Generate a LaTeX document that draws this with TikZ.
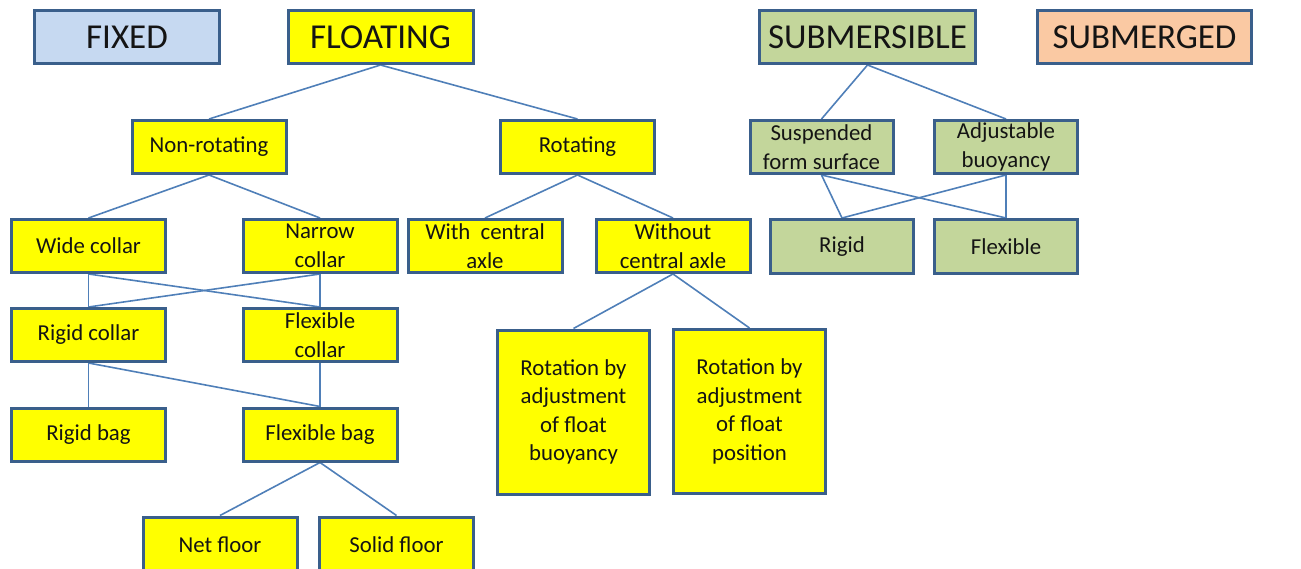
\documentclass[tikz,border=0pt]{standalone}
\usepackage{fontspec}
\setmainfont{Carlito}
\usetikzlibrary{backgrounds}
\definecolor{boxline}{HTML}{3A5F8B}
\definecolor{linkline}{HTML}{4F7FB8}
\definecolor{yel}{HTML}{FFFF00}
\definecolor{fixedfill}{HTML}{C6D9F1}
\definecolor{subfill}{HTML}{C3D69B}
\definecolor{mergedfill}{HTML}{FAC9A3}
\definecolor{txt}{HTML}{141414}
\tikzset{
  x=1pt, y=-1pt,
  box/.style={draw=boxline, line width=3pt, rectangle, inner sep=2pt,
    align=center, text=txt, font=\fontsize{22.8}{28.5}\selectfont},
  bigbox/.style={box, minimum width=185pt, minimum height=53pt,
    font=\fontsize{35}{40}\selectfont},
  smallbox/.style={box, minimum width=154pt, minimum height=53pt},
  link/.style={draw=linkline, line width=1.6pt}
}
\begin{document}
\begin{tikzpicture}
\useasboundingbox (0,0) rectangle (1301,569);
% top level
\node[bigbox, fill=fixedfill] (fixed) at (127,37) {FIXED};
\node[bigbox, fill=yel] (floating) at (380.5,37) {FLOATING};
\node[bigbox, fill=subfill, minimum width=216pt] (submersible) at (867.5,37) {SUBMERSIBLE};
\node[bigbox, fill=mergedfill, minimum width=214pt] (submerged) at (1144.5,37) {SUBMERGED};
% floating branch
\node[smallbox, fill=yel] (nonrot) at (209,147) {Non-rotating};
\node[smallbox, fill=yel] (rot) at (577.5,147) {Rotating};
\node[smallbox, fill=yel] (wide) at (88.5,246) {Wide collar};
\node[smallbox, fill=yel] (narrow) at (320,246) {Narrow\\collar};
\node[smallbox, fill=yel] (withaxle) at (485,246) {With\ \ central\\axle};
\node[smallbox, fill=yel] (withoutaxle) at (673,246) {Without\\central axle};
\node[smallbox, fill=yel] (rigidcollar) at (88.5,335) {Rigid collar};
\node[smallbox, fill=yel] (flexcollar) at (320,335) {Flexible\\collar};
\node[smallbox, fill=yel] (rigidbag) at (88.5,434.5) {Rigid bag};
\node[smallbox, fill=yel] (flexbag) at (320,434.5) {Flexible bag};
\node[smallbox, fill=yel, minimum width=152pt, minimum height=164pt] (rotbuoy) at (573.5,412) {Rotation by\\adjustment\\of float\\buoyancy};
\node[smallbox, fill=yel, minimum width=152pt, minimum height=164pt] (rotpos) at (749.5,411.5) {Rotation by\\adjustment\\of float\\position};
\node[smallbox, fill=yel, minimum height=56pt] (netfloor) at (220,545) {Net floor};
\node[smallbox, fill=yel, minimum height=56pt] (solidfloor) at (396.5,545) {Solid floor};
% submersible branch
\node[smallbox, fill=subfill, minimum width=143pt] (suspended) at (821.5,147) {Suspended\\form surface};
\node[smallbox, fill=subfill, minimum width=143pt] (adjustable) at (1006,147) {Adjustable\\buoyancy};
\node[smallbox, fill=subfill, minimum width=143pt, minimum height=54pt] (rigid) at (842,246.5) {Rigid};
\node[smallbox, fill=subfill, minimum width=143pt, minimum height=54pt] (flexible) at (1006,246.5) {Flexible};
% connectors
\begin{pgfonlayer}{background}
\draw[link] (floating.south) -- (nonrot.north);
\draw[link] (floating.south) -- (rot.north);
\draw[link] (nonrot.south) -- (wide.north);
\draw[link] (nonrot.south) -- (narrow.north);
\draw[link] (rot.south) -- (withaxle.north);
\draw[link] (rot.south) -- (withoutaxle.north);
\draw[link] (wide.south) -- (rigidcollar.north);
\draw[link] (wide.south) -- (flexcollar.north);
\draw[link] (narrow.south) -- (rigidcollar.north);
\draw[link] (narrow.south) -- (flexcollar.north);
\draw[link] (rigidcollar.south) -- (rigidbag.north);
\draw[link] (rigidcollar.south) -- (flexbag.north);
\draw[link] (flexcollar.south) -- (flexbag.north);
\draw[link] (flexbag.south) -- (netfloor.north);
\draw[link] (flexbag.south) -- (solidfloor.north);
\draw[link] (withoutaxle.south) -- (rotbuoy.north);
\draw[link] (withoutaxle.south) -- (rotpos.north);
\draw[link] (submersible.south) -- (suspended.north);
\draw[link] (submersible.south) -- (adjustable.north);
\draw[link] (suspended.south) -- (rigid.north);
\draw[link] (suspended.south) -- (flexible.north);
\draw[link] (adjustable.south) -- (rigid.north);
\draw[link] (adjustable.south) -- (flexible.north);
\end{pgfonlayer}
\end{tikzpicture}
\end{document}
